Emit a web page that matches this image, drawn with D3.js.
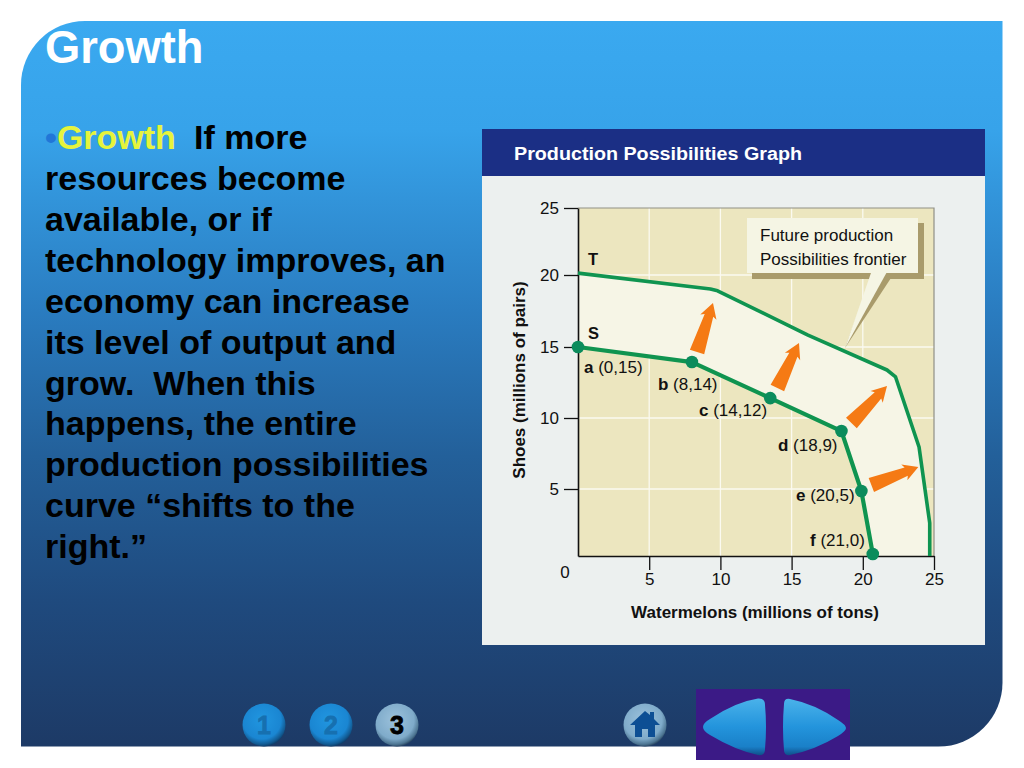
<!DOCTYPE html>
<html><head><meta charset="utf-8">
<script src="https://cdn.jsdelivr.net/npm/d3@7/dist/d3.min.js"></script>
<style>html,body{margin:0;padding:0;background:#fff}svg{display:block}text{font-family:"Liberation Sans",Arial,sans-serif;white-space:pre}</style>
</head><body><svg id="c" width="1024" height="768"></svg>
<script>
const titleText = "Growth";
const bodyLines = ["If more","resources become","available, or if","technology improves, an","economy can increase","its level of output and","grow.  When this","happens, the entire","production possibilities","curve “shifts to the","right.”"];
const chartTitle = "Production Possibilities Graph";
const xTicks = [5,10,15,20,25];
const yTicks = [5,10,15,20,25];
const curveS_x = [0,8,13.5,18.5,19.9,20.7];
const curveS_y = [15,13.94,11.4,9.08,4.85,0.15];
const curveT_x = [0,9.3,9.8,16.15,21.7,22.3,23.95,24.7,24.7];
const curveT_y = [20.14,19.03,18.9,15.83,13.38,12.89,7.96,2.46,0];
const pointNames = ["a","b","c","d","e","f"];
const pointCoords = ["(0,15)","(8,14)","(14,12)","(18,9)","(20,5)","(21,0)"];
const arrowFromX = [8.36,14.0,19.2,20.6];
const arrowFromY = [14.65,12.11,9.65,5.28];
const arrowToX = [9.48,15.52,21.7,23.9];
const arrowToY = [18.06,15.28,12.25,6.55];
const calloutLines = ["Future production","Possibilities frontier"];
const navNumbers = ["1","2","3"];

const svg = d3.select("#c");
const defs = svg.append("defs");
const bg = defs.append("linearGradient").attr("id","bg").attr("x1",0).attr("y1",0).attr("x2",0).attr("y2",1);
[[0,"#3aa9f0"],[0.15,"#37a3ea"],[0.4,"#2a7cc0"],[0.6,"#23609a"],[0.8,"#1f4a7e"],[1,"#1d3a66"]]
  .forEach(s=>bg.append("stop").attr("offset",s[0]).attr("stop-color",s[1]));
function radial(id,stops){const g=defs.append("radialGradient").attr("id",id).attr("cx","45%").attr("cy","38%").attr("r","62%");
  stops.forEach(s=>g.append("stop").attr("offset",s[0]).attr("stop-color",s[1]));}
radial("btnBlue",[[0,"#2196e0"],[0.72,"#1a86d2"],[0.92,"#125a92"],[1,"#0e3f6c"]]);
radial("btnGrey",[[0,"#9cc2dc"],[0.72,"#7fabca"],[0.92,"#4d7592"],[1,"#2c4a66"]]);
const tri = defs.append("linearGradient").attr("id","tri").attr("x1",0).attr("y1",0).attr("x2",0).attr("y2",1);
[[0,"#4ab2ea"],[0.5,"#2394dc"],[0.85,"#1a80c8"],[1,"#0f4f8a"]].forEach(s=>tri.append("stop").attr("offset",s[0]).attr("stop-color",s[1]));

// slide panel
const L=21,T0=21,R=1002.5,B=746.5,r=64;
svg.append("path").attr("d",`M${L+r},${T0}H${R}V${B-r}A${r},${r} 0 0 1 ${R-r},${B}H${L}V${T0+r}A${r},${r} 0 0 1 ${L+r},${T0}Z`).attr("fill","url(#bg)");
svg.append("text").attr("x",45).attr("y",63).attr("fill","#fff").attr("font-size",45.3).attr("font-weight",700).text(titleText);

// body text
const body = svg.append("g").attr("font-weight",700).attr("font-size",34);
const first = body.append("text").attr("x",45).attr("y",149);
first.append("tspan").attr("fill","#2176d8").text("•");
first.append("tspan").attr("fill","#e6f43c").text("Growth");
body.append("text").attr("x",194).attr("y",149).attr("fill","#000").text(bodyLines[0]);
body.selectAll("text.l").data(bodyLines.slice(1)).join("text").attr("class","l").attr("x",45)
  .attr("y",(d,i)=>190+i*40.9).attr("fill","#000").text(d=>d);

// chart card
svg.append("rect").attr("x",482).attr("y",129).attr("width",503).attr("height",516).attr("fill","#ecf0ef");
svg.append("rect").attr("x",482).attr("y",129).attr("width",503).attr("height",47).attr("fill","#1b2f85");
svg.append("text").attr("x",514).attr("y",160).attr("fill","#fff").attr("font-size",18).attr("font-weight",700).attr("textLength",288).attr("lengthAdjust","spacingAndGlyphs").text(chartTitle);

const x = d3.scaleLinear().domain([0,25]).range([578,934]);
const y = d3.scaleLinear().domain([0,5,10,15,20,25]).range([556,489,418,347,275,208]);
const toXY=(xs,ys)=>xs.map((v,i)=>[x(v),y(ys[i])]);
const S=toXY(curveS_x,curveS_y), Tc=toXY(curveT_x,curveT_y);
const line=d3.line();

// plot background and grid
svg.append("rect").attr("x",x(0)).attr("y",y(25)).attr("width",x(25)-x(0)).attr("height",y(0)-y(25)).attr("fill","#ece6bf");
const grid=svg.append("g").attr("stroke","#fbfaf0").attr("stroke-width",1.3);
grid.selectAll("line.v").data(xTicks.slice(0,-1)).join("line").attr("class","v").attr("x1",d=>x(d)).attr("x2",d=>x(d)).attr("y1",d=>d==20?y(5):y(0)).attr("y2",y(25));
grid.selectAll("line.h").data(yTicks.slice(0,-1)).join("line").attr("class","h").attr("y1",d=>y(d)).attr("y2",d=>y(d)).attr("x1",x(0)).attr("x2",x(25));
// band between frontiers
svg.append("path").attr("d",line(Tc.concat([[x(curveS_x[5]),y(0)]]).concat(S.slice().reverse()))+"Z").attr("fill","#f6f5e6");
// frame
svg.append("path").attr("d",`M${x(0)},${y(25)}H${x(25)}V${y(0)}`).attr("fill","none").attr("stroke","#8f8f86").attr("stroke-width",1.2);

// axes
const ax=d3.axisBottom(x).tickValues(xTicks).tickSize(14).tickPadding(3).tickSizeOuter(0);
const ay=d3.axisLeft(y).tickValues(yTicks).tickSize(14).tickPadding(5).tickSizeOuter(0);
const gx=svg.append("g").attr("transform",`translate(0,${y(0)})`).call(ax);
const gy=svg.append("g").attr("transform",`translate(${x(0)},0)`).call(ay);
[gx,gy].forEach(g=>{g.selectAll("text").attr("font-size",17).attr("fill","#111").attr("font-family","Liberation Sans");
  g.selectAll("line").attr("stroke","#111").attr("stroke-width",1.3);
  g.select(".domain").attr("stroke","#111").attr("stroke-width",1.6);});
svg.append("text").attr("x",565).attr("y",578).attr("text-anchor","middle").attr("font-size",17).attr("fill","#111").text("0");
svg.append("text").attr("x",755).attr("y",618).attr("text-anchor","middle").attr("font-size",17).attr("font-weight",700).attr("fill","#111").text("Watermelons (millions of tons)");
svg.append("text").attr("transform","translate(525,380) rotate(-90)").attr("text-anchor","middle").attr("font-size",17).attr("font-weight",700).attr("fill","#111").text("Shoes (millions of pairs)");

// callout
svg.append("rect").attr("x",752).attr("y",223).attr("width",172).attr("height",56).attr("fill","#a99b6b");
svg.append("path").attr("d","M873,272 L845,348 L891,278 Z").attr("fill","#a99b6b");
svg.append("rect").attr("x",747).attr("y",218).attr("width",171).attr("height",55).attr("fill","#f5f5e4");
svg.append("path").attr("d","M872,270 L845,348 L888,270 Z").attr("fill","#f5f5e4");
svg.selectAll("text.cl").data(calloutLines).join("text").attr("class","cl").attr("x",760).attr("y",(d,i)=>241+i*24).attr("font-size",17).attr("fill","#111").text(d=>d);

// frontier lines
svg.append("path").attr("d",line(Tc)).attr("fill","none").attr("stroke","#0f9450").attr("stroke-width",3.6).attr("stroke-linejoin","round");
svg.append("path").attr("d",line(S)).attr("fill","none").attr("stroke","#0f9450").attr("stroke-width",4.2).attr("stroke-linejoin","round");
svg.selectAll("circle.p").data(S).join("circle").attr("class","p").attr("cx",d=>d[0]).attr("cy",d=>d[1]).attr("r",6.3).attr("fill","#0b8c5c");

// shift arrows
function arrowPath(a,b){const dx=b[0]-a[0],dy=b[1]-a[1],l=Math.hypot(dx,dy),ux=dx/l,uy=dy/l,nx=-uy,ny=ux;
  const P=(t,s)=>[a[0]+ux*t+nx*s,a[1]+uy*t+ny*s];const h=l-13;
  return line([P(0,-7.5),P(h,-4.5),P(h-2,-8.5),P(l,0),P(h-2,8.5),P(h,4.5),P(0,7.5)])+"Z";}
svg.selectAll("path.ar").data(arrowFromX).join("path").attr("class","ar")
  .attr("d",(d,i)=>arrowPath([x(arrowFromX[i]),y(arrowFromY[i])],[x(arrowToX[i]),y(arrowToY[i])])).attr("fill","#f57a14");

// labels
svg.append("text").attr("x",588).attr("y",265).attr("font-size",16.5).attr("font-weight",700).attr("fill","#111").text("T");
svg.append("text").attr("x",588).attr("y",339).attr("font-size",16.5).attr("font-weight",700).attr("fill","#111").text("S");
const labelX=[584,658,699,778,796,810], labelY=[373,390,416,451,501,546];
svg.selectAll("text.pl").data(pointNames).join("text").attr("class","pl").attr("font-size",17).attr("fill","#111")
  .attr("x",(d,i)=>labelX[i]).attr("y",(d,i)=>labelY[i])
  .each(function(d,i){const t=d3.select(this);t.append("tspan").attr("font-weight",700).text(d);t.append("tspan").text(" "+pointCoords[i]);});

// nav buttons
const btnX=[264,331,397];
navNumbers.forEach((n,i)=>{
  svg.append("circle").attr("cx",btnX[i]).attr("cy",725).attr("r",21.5).attr("fill",i==2?"url(#btnGrey)":"url(#btnBlue)");
  svg.append("text").attr("x",btnX[i]).attr("y",733.5).attr("text-anchor","middle").attr("font-size",25).attr("font-weight",700)
    .attr("fill",i==2?"#000":"#1670b0").attr("stroke",i==2?"#000":"#1670b0").attr("stroke-width",0.8).text(n);
});
svg.append("circle").attr("cx",645).attr("cy",725).attr("r",21.5).attr("fill","url(#btnGrey)");
svg.append("path").attr("d","M645,711 L650,715 V712 H654 V719 L660,725 H655 V737 H648 V729 H642 V737 H635 V725 H630 Z").attr("fill","#0d4f94");
svg.append("rect").attr("x",696).attr("y",689).attr("width",154).attr("height",71).attr("fill","#3b1a86");
svg.append("path").attr("d","M703,727 Q703,723 710,719 Q735,702 758,698.5 Q765,698 765,705 Q767,727 765,749 Q765,756 758,755 Q735,750 710,735 Q703,731 703,727 Z").attr("fill","url(#tri)");
svg.append("path").attr("d","M846,728 Q846,725 838,720 Q815,704 790,699 Q784,698 784,704 Q782,727 784,750 Q784,756 790,755 Q815,750 838,736 Q846,731 846,728 Z").attr("fill","url(#tri)");
</script></body></html>
